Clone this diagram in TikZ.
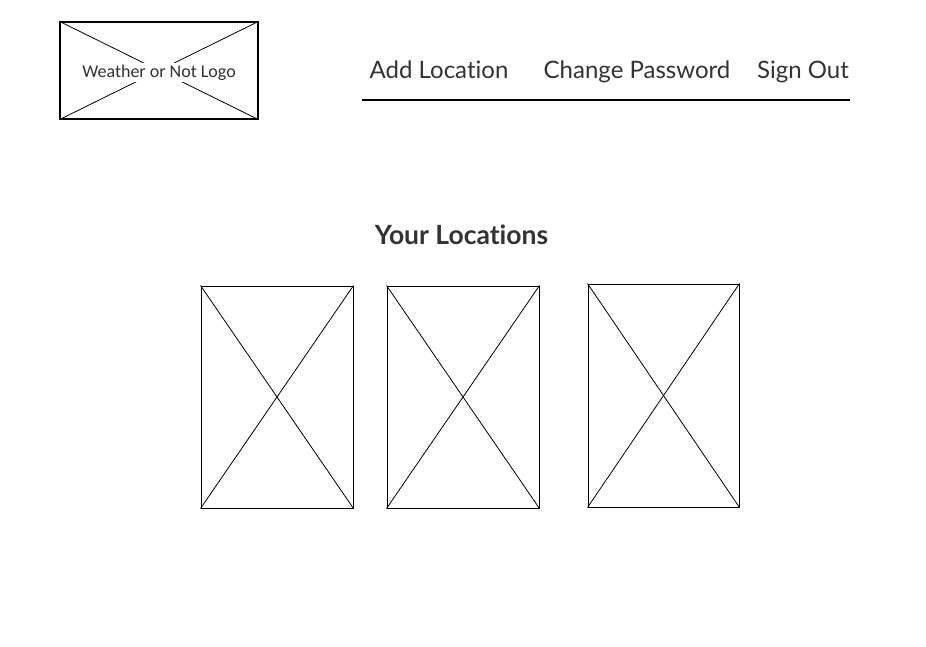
\documentclass[tikz,border=0pt]{standalone}
\usepackage{fontspec}
\setmainfont{Lato}[Ligatures=NoCommon]
\newfontfamily\logofont{Carlito}
\begin{document}
\begin{tikzpicture}%
        [x=1pt, y=-1pt,
        frame/.style={draw=black, line width=1.3pt, inner sep=0pt},
        card/.style={draw=black, line width=1pt, inner sep=0pt, minimum width=152pt, minimum height=222pt},
        cross/.style={color=black, line width=0.8pt},
        navlink/.style={text=black!80, inner sep=0pt, anchor=base, font=\fontsize{24}{29}\selectfont},
        heading/.style={text=black!80, inner sep=0pt, anchor=base, font=\bfseries\fontsize{26.5}{31}\selectfont}]

    \useasboundingbox (0,0) rectangle (926,647);
    %% Logo placeholder
    \node[frame, minimum width=198pt, minimum height=97pt] (logo) at (159,70.5) {};
    \draw[cross] (logo.north west) -- (logo.south east);
    \draw[cross] (logo.south west) -- (logo.north east);
    \node[fill=white, inner sep=1.5pt, yshift=-2pt, text=black!80, font=\logofont\fontsize{18}{21}\selectfont] (logotext) at (logo.center) {Weather or Not Logo};
    %% Navigation
    \node[navlink] (addloc) at (439,79) {Add Location};
    \node[navlink] (changepw) at (637,79) {Change Password};
    \node[navlink] (signout) at (803,79) {Sign Out};
    \coordinate (navstart) at (362,100);
    \coordinate (navend) at (850,100);
    \draw[color=black, line width=1.5pt] (navstart) -- (navend);
    %%
    %% Locations
    %%
    \node[heading] (yourloc) at (461.5,244) {Your Locations};
    \node[card] (cardA) at (277,397) {};
    \node[card] (cardB) at (463,397) {};
    \node[card, minimum width=151pt, minimum height=223pt] (cardC) at (663.5,395.5) {};
    \draw[cross] (cardA.north west) -- (cardA.south east);
    \draw[cross] (cardA.south west) -- (cardA.north east);
    \draw[cross] (cardB.north west) -- (cardB.south east);
    \draw[cross] (cardB.south west) -- (cardB.north east);
    \draw[cross] (cardC.north west) -- (cardC.south east);
    \draw[cross] (cardC.south west) -- (cardC.north east);
    %%
\end{tikzpicture}
\end{document}
